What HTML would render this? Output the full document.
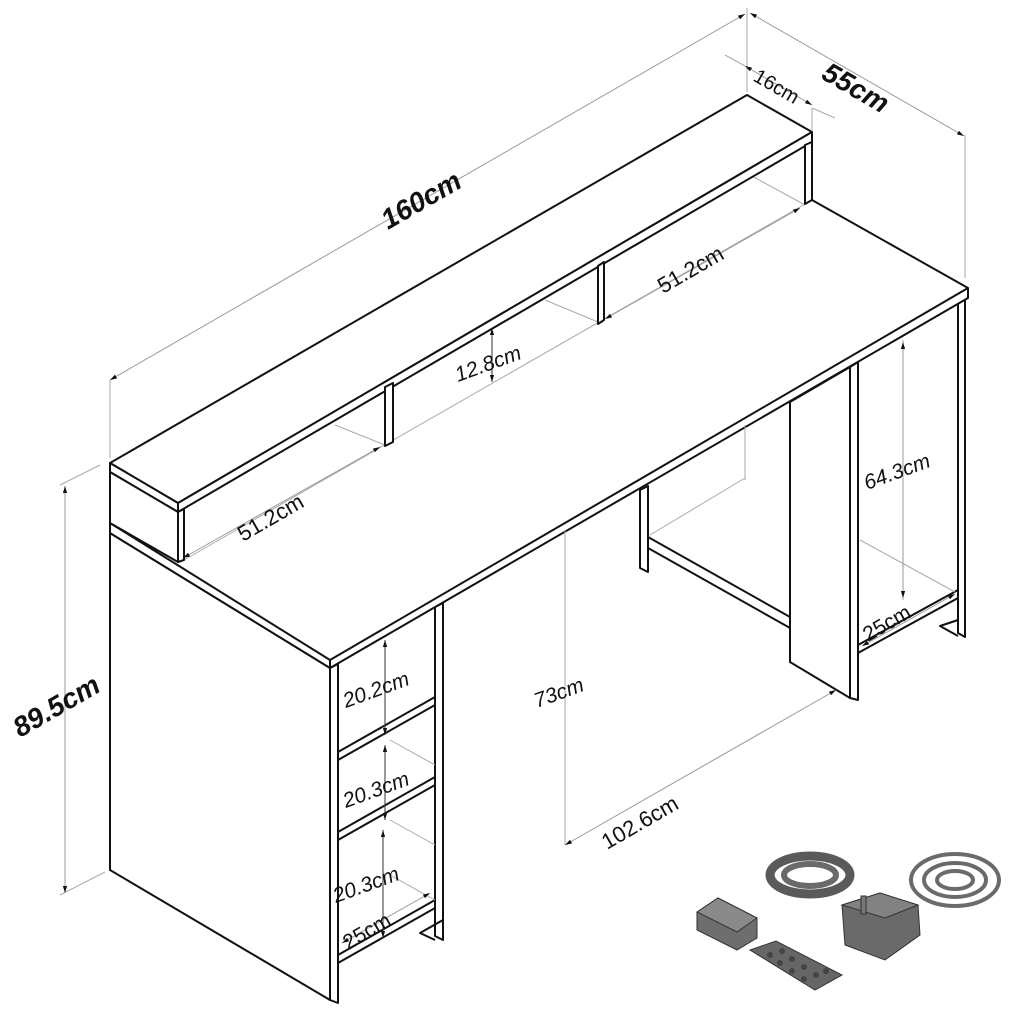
<!DOCTYPE html>
<html><head><meta charset="utf-8"><style>
html,body{margin:0;padding:0;background:#fff;}
svg{display:block;}
text{font-family:"Liberation Sans",sans-serif;font-style:italic;fill:#111;}
</style></head><body>
<svg width="1012" height="1020" viewBox="0 0 1012 1020" xmlns="http://www.w3.org/2000/svg">
<defs>
<marker id="ar" viewBox="0 0 10 10" refX="10" refY="5" markerWidth="7" markerHeight="7" orient="auto-start-reverse"><path d="M0,2 L10,5 L0,8 z" fill="#111"/></marker>
</defs>
<g stroke="#111" stroke-width="2" fill="#fff" stroke-linejoin="round">
<polygon points="110,533 330,668 330,1000 110,870"/>
<polygon points="330,668 338,664 338,1003 330,1000"/>
<polygon points="435,607 443,603 443,940 435,936"/>
<polygon points="338,752 435,697 435,705 338,760" />
<polygon points="338,832 435,777 435,785 338,840" />
<polygon points="338,955 435,900 435,908 338,963" />
<polyline points="443,920 420,933 435,940" fill="none"/>
<polygon points="640,490 648,486 648,572 640,568"/>
<polygon points="648,537 790,617 790,628 648,548"/>
<polygon points="958,302 965,300 965,637 958,633"/>
<polygon points="858,645 958,590 958,598 858,653"/>
<polyline points="958,620 940,626 958,636" fill="none"/>
<polygon points="790,402 850,367 858,362 858,700 850,698 790,662"/>
<line x1="850" y1="367" x2="850" y2="698"/>
<polygon points="110,523 812,200 968,288 330,660" stroke="none"/>
<polygon points="110,523 330,660 330,668 110,533"/>
<polygon points="330,660 968,288 968,298 330,668"/>
<line x1="812" y1="200" x2="968" y2="288"/>
</g>
<g stroke="#aaa" stroke-width="1" fill="none">
<line x1="110" y1="380" x2="110" y2="458"/>
<line x1="747" y1="8" x2="747" y2="92"/>
<line x1="965" y1="135" x2="965" y2="278"/>
<line x1="725" y1="55" x2="745" y2="66"/>
<line x1="812" y1="108" x2="835" y2="118"/>
<line x1="812" y1="108" x2="812" y2="130"/>
<line x1="60" y1="485" x2="100" y2="465"/>
<line x1="60" y1="895" x2="105" y2="872"/>
<line x1="903" y1="340" x2="903" y2="600"/>
<line x1="565" y1="530" x2="565" y2="845"/>
<line x1="184" y1="560" x2="805" y2="204"/>
<line x1="335" y1="425" x2="385" y2="445"/>
<line x1="750" y1="175" x2="805" y2="205"/>
<line x1="545" y1="300" x2="598" y2="322"/>
<line x1="745" y1="425" x2="745" y2="480"/>
<line x1="745" y1="478" x2="650" y2="535"/>
<line x1="860" y1="540" x2="955" y2="592"/>
<line x1="390" y1="740" x2="435" y2="765"/>
<line x1="390" y1="820" x2="435" y2="845"/>
<line x1="390" y1="875" x2="435" y2="900"/>
</g>
<g stroke="#999" stroke-width="1" fill="none" marker-start="url(#ar)" marker-end="url(#ar)">
<line x1="110" y1="380" x2="745" y2="14"/>
<line x1="750" y1="13" x2="964" y2="136"/>
<line x1="745" y1="66" x2="812" y2="105"/>
<line x1="65" y1="486" x2="65" y2="893"/>
<line x1="183" y1="558" x2="380" y2="447"/>
<line x1="605" y1="319" x2="800" y2="208"/>
<line x1="565" y1="845" x2="836" y2="690"/>
<line x1="903" y1="342" x2="903" y2="598"/>
<line x1="862" y1="646" x2="955" y2="594"/>
<line x1="342" y1="943" x2="430" y2="893"/>
</g>
<g stroke="#333" stroke-width="1" fill="none" marker-start="url(#ar)" marker-end="url(#ar)">
<line x1="492" y1="328" x2="492" y2="382"/>
<line x1="385" y1="640" x2="385" y2="735"/>
<line x1="385" y1="745" x2="385" y2="820"/>
<line x1="383" y1="830" x2="383" y2="938"/>
</g>
<g stroke="#111" stroke-width="2" fill="#fff" stroke-linejoin="round">
<polygon points="110,463 747,95 812,132 178,503"/>
<polygon points="110,463 178,503 178,512 110,472"/>
<polygon points="178,503 812,132 812,142 178,512"/>
<polygon points="110,472 178,512 178,562 110,523"/>
<polygon points="178,512 184,509 184,560 178,562"/>
<polygon points="805,145 812,142 812,200 805,204"/>
<polygon points="385,387 393,383 393,442 385,446"/>
<polygon points="598,266 604,262 604,320 598,324"/>
</g>
<g font-size="22">
<text transform="translate(388,230) rotate(-30)" font-weight="bold" font-size="28">160cm</text>
<text transform="translate(820,78) rotate(30)" font-weight="bold" font-size="28">55cm</text>
<text transform="translate(752,80) rotate(30)" font-size="20" style="font-style:normal">16cm</text>
<text transform="translate(20,738) rotate(-30)" font-weight="bold" font-size="28">89.5cm</text>
<text transform="translate(243,542) rotate(-30)" font-size="22" style="font-style:normal">51.2cm</text>
<text transform="translate(663,294) rotate(-30)" font-size="22" style="font-style:normal">51.2cm</text>
<text transform="translate(458,382) rotate(-20)" font-size="21">12.8cm</text>
<text transform="translate(867,490) rotate(-20)" font-size="21">64.3cm</text>
<text transform="translate(537,708) rotate(-20)" font-size="21">73cm</text>
<text transform="translate(607,850) rotate(-30)" font-size="22" style="font-style:normal">102.6cm</text>
<text transform="translate(346,708) rotate(-20)" font-size="21">20.2cm</text>
<text transform="translate(346,808) rotate(-20)" font-size="21">20.3cm</text>
<text transform="translate(336,903) rotate(-20)" font-size="21">20.3cm</text>
<text transform="translate(348,950) rotate(-30)" font-size="21" style="font-style:normal">25cm</text>
<text transform="translate(868,642) rotate(-30)" font-size="21" style="font-style:normal">25cm</text>
</g>
<g fill="none">
<ellipse cx="810" cy="875" rx="40" ry="19" stroke="#5a5a5a" stroke-width="9"/>
<ellipse cx="810" cy="875" rx="26" ry="11" stroke="#6a6a6a" stroke-width="6"/>
<ellipse cx="955" cy="880" rx="44" ry="26" stroke="#6a6a6a" stroke-width="4"/>
<ellipse cx="955" cy="880" rx="31" ry="17" stroke="#6a6a6a" stroke-width="4"/>
<ellipse cx="955" cy="880" rx="18" ry="9" stroke="#6a6a6a" stroke-width="4"/>
</g>
<g stroke="#333" stroke-width="1">
<polygon points="697,912 718,898 757,918 757,938 737,950 697,930" fill="#6e6e6e"/>
<polygon points="697,912 718,898 757,918 737,932" fill="#8a8a8a"/>
<polygon points="750,950 776,941 842,975 815,990" fill="#666"/>
<polygon points="842,905 880,893 918,905 920,935 885,960 845,945" fill="#6a6a6a"/>
<polygon points="842,905 880,893 918,905 885,918" fill="#828282"/>
<rect x="861" y="896" width="5" height="18" fill="#777"/>
</g>
<g fill="#444">
<circle cx="770" cy="955" r="3"/><circle cx="782" cy="951" r="3"/><circle cx="780" cy="963" r="3"/><circle cx="792" cy="959" r="3"/><circle cx="792" cy="971" r="3"/><circle cx="804" cy="967" r="3"/><circle cx="804" cy="979" r="3"/><circle cx="816" cy="975" r="3"/><circle cx="826" cy="971" r="3"/>
</g>
</svg>
</body></html>
